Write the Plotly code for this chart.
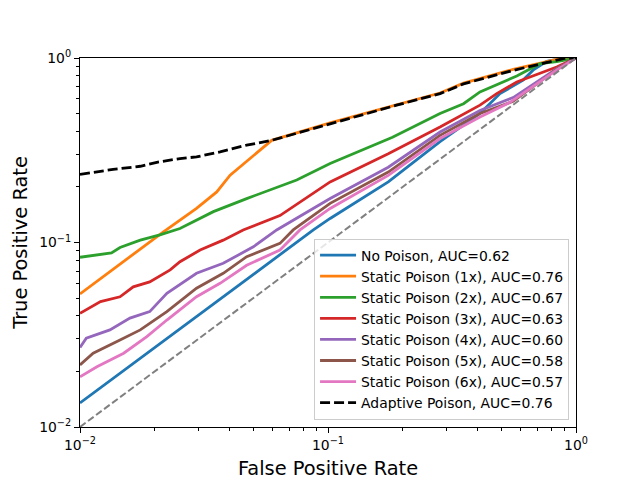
import plotly.graph_objects as go

# ---- data (FPR, TPR) ----
no_poison_fpr = [0.01, 0.0873, 0.102, 0.175, 0.283, 0.410, 0.494, 0.612, 0.671, 0.762, 0.836, 1.0]
no_poison_tpr = [0.0135, 0.117, 0.135, 0.213, 0.352, 0.500, 0.641, 0.759, 0.859, 0.959, 0.982, 1.0]

static1_fpr = [0.01, 0.0164, 0.0217, 0.0295, 0.0356, 0.0403, 0.0484, 0.0593, 0.102, 0.189, 0.283, 0.352, 0.558, 0.836, 0.871, 1.0]
static1_tpr = [0.0526, 0.0863, 0.1143, 0.1531, 0.188, 0.2317, 0.285, 0.358, 0.445, 0.560, 0.646, 0.731, 0.867, 0.982, 1.0, 1.0]

static2_fpr = [0.01, 0.0134, 0.0145, 0.0175, 0.0210, 0.0253, 0.0345, 0.0470, 0.0748, 0.102, 0.182, 0.283, 0.352, 0.410, 0.577, 0.716, 0.836, 1.0]
static2_tpr = [0.0832, 0.0879, 0.0940, 0.103, 0.110, 0.119, 0.147, 0.173, 0.218, 0.268, 0.372, 0.500, 0.565, 0.655, 0.798, 0.931, 0.955, 1.0]

static3_fpr = [0.01, 0.0121, 0.0145, 0.0164, 0.0191, 0.0231, 0.0253, 0.0305, 0.0378, 0.0455, 0.0640, 0.102, 0.175, 0.283, 0.410, 0.479, 0.577, 0.836, 1.0]
static3_tpr = [0.0413, 0.0478, 0.0508, 0.0575, 0.0612, 0.0710, 0.0787, 0.0910, 0.103, 0.117, 0.140, 0.213, 0.303, 0.423, 0.555, 0.641, 0.741, 0.893, 1.0]

static4_fpr = [0.01, 0.0106, 0.0132, 0.0159, 0.0191, 0.0224, 0.0295, 0.0378, 0.0500, 0.0621, 0.102, 0.175, 0.283, 0.410, 0.558, 0.836, 1.0]
static4_tpr = [0.0270, 0.0303, 0.0336, 0.0389, 0.0422, 0.0531, 0.0681, 0.0771, 0.0948, 0.117, 0.173, 0.256, 0.397, 0.520, 0.610, 0.875, 1.0]

static5_fpr = [0.01, 0.0113, 0.0145, 0.0175, 0.0224, 0.0295, 0.0378, 0.0470, 0.0640, 0.0724, 0.102, 0.175, 0.283, 0.410, 0.558, 0.836, 1.0]
static5_tpr = [0.0217, 0.0251, 0.0296, 0.0336, 0.0422, 0.0565, 0.0681, 0.0838, 0.0989, 0.117, 0.163, 0.241, 0.381, 0.500, 0.582, 0.871, 1.0]

static6_fpr = [0.01, 0.0117, 0.0150, 0.0186, 0.0224, 0.0295, 0.0367, 0.0470, 0.0640, 0.0771, 0.102, 0.175, 0.283, 0.410, 0.542, 0.836, 1.0]
static6_tpr = [0.0187, 0.0212, 0.0251, 0.0309, 0.0380, 0.0508, 0.0601, 0.0753, 0.0910, 0.117, 0.153, 0.231, 0.366, 0.479, 0.575, 0.861, 1.0]

adaptive_fpr = [0.01, 0.0136, 0.0175, 0.0204, 0.0253, 0.0295, 0.0367, 0.0470, 0.0593, 0.102, 0.189, 0.283, 0.352, 0.558, 0.836, 0.912, 1.0]
adaptive_tpr = [0.234, 0.249, 0.259, 0.272, 0.285, 0.291, 0.310, 0.337, 0.358, 0.441, 0.555, 0.641, 0.724, 0.857, 0.973, 1.0, 1.0]

chance_fpr = [0.01, 1.0]
chance_tpr = [0.01, 1.0]

labels = [
    "No Poison, AUC=0.62",
    "Static Poison (1x), AUC=0.76",
    "Static Poison (2x), AUC=0.67",
    "Static Poison (3x), AUC=0.63",
    "Static Poison (4x), AUC=0.60",
    "Static Poison (5x), AUC=0.58",
    "Static Poison (6x), AUC=0.57",
    "Adaptive Poison, AUC=0.76",
]
colors = ["#1f77b4", "#ff7f0e", "#2ca02c", "#d62728", "#9467bd", "#8c564b", "#e377c2", "black"]

series = [
    (no_poison_fpr, no_poison_tpr),
    (static1_fpr, static1_tpr),
    (static2_fpr, static2_tpr),
    (static3_fpr, static3_tpr),
    (static4_fpr, static4_tpr),
    (static5_fpr, static5_tpr),
    (static6_fpr, static6_tpr),
    (adaptive_fpr, adaptive_tpr),
]

fig = go.Figure()
for (fx, ty), name, col in zip(series, labels, colors):
    dash = "10px,4px" if name.startswith("Adaptive") else "solid"
    fig.add_trace(go.Scatter(x=fx, y=ty, mode="lines", name=name,
                             line=dict(color=col, width=2.8, dash=dash)))

fig.add_trace(go.Scatter(x=chance_fpr, y=chance_tpr, mode="lines", showlegend=False,
                         line=dict(color="gray", width=2, dash="7px,3px")))

minor_vals = [m * 10 ** e for e in (-2, -1) for m in range(2, 10)]
font = "DejaVu Sans"

axis_common = dict(
    type="log", range=[-2, 0], automargin=False,
    showgrid=False, zeroline=False,
    showline=True, linecolor="black", linewidth=1.1, mirror=True,
    ticks="outside", ticklen=5, tickwidth=1.1, tickcolor="black",
    tickvals=[0.01, 0.1, 1],
    ticktext=["10<sup>−2</sup>", "10<sup>−1</sup>", "10<sup>0</sup>"],
    tickfont=dict(family=font, size=13.9, color="black"),
    minor=dict(ticks="outside", ticklen=2.8, tickwidth=0.8, tickcolor="black",
               tickvals=minor_vals, showgrid=False),
)

fig.update_layout(
    width=640, height=480,
    margin=dict(l=80, r=64, t=58, b=53),
    paper_bgcolor="white", plot_bgcolor="white",
    font=dict(family=font, color="black"),
    xaxis=dict(axis_common, title=dict(text="False Positive Rate",
                                       font=dict(family=font, size=19.4), standoff=9)),
    yaxis=dict(axis_common, title=dict(text="True Positive Rate",
                                       font=dict(family=font, size=19.4), standoff=6)),
    legend=dict(
        x=0.986, y=0.02, xanchor="right", yanchor="bottom",
        bgcolor="rgba(255,255,255,0.8)", bordercolor="#cccccc", borderwidth=1,
        font=dict(family=font, size=13.9, color="black"),
        tracegroupgap=0, itemwidth=36,
    ),
)

fig.write_html("out.html", config={"displayModeBar": False},
               post_script="document.body.style.margin='0';")
